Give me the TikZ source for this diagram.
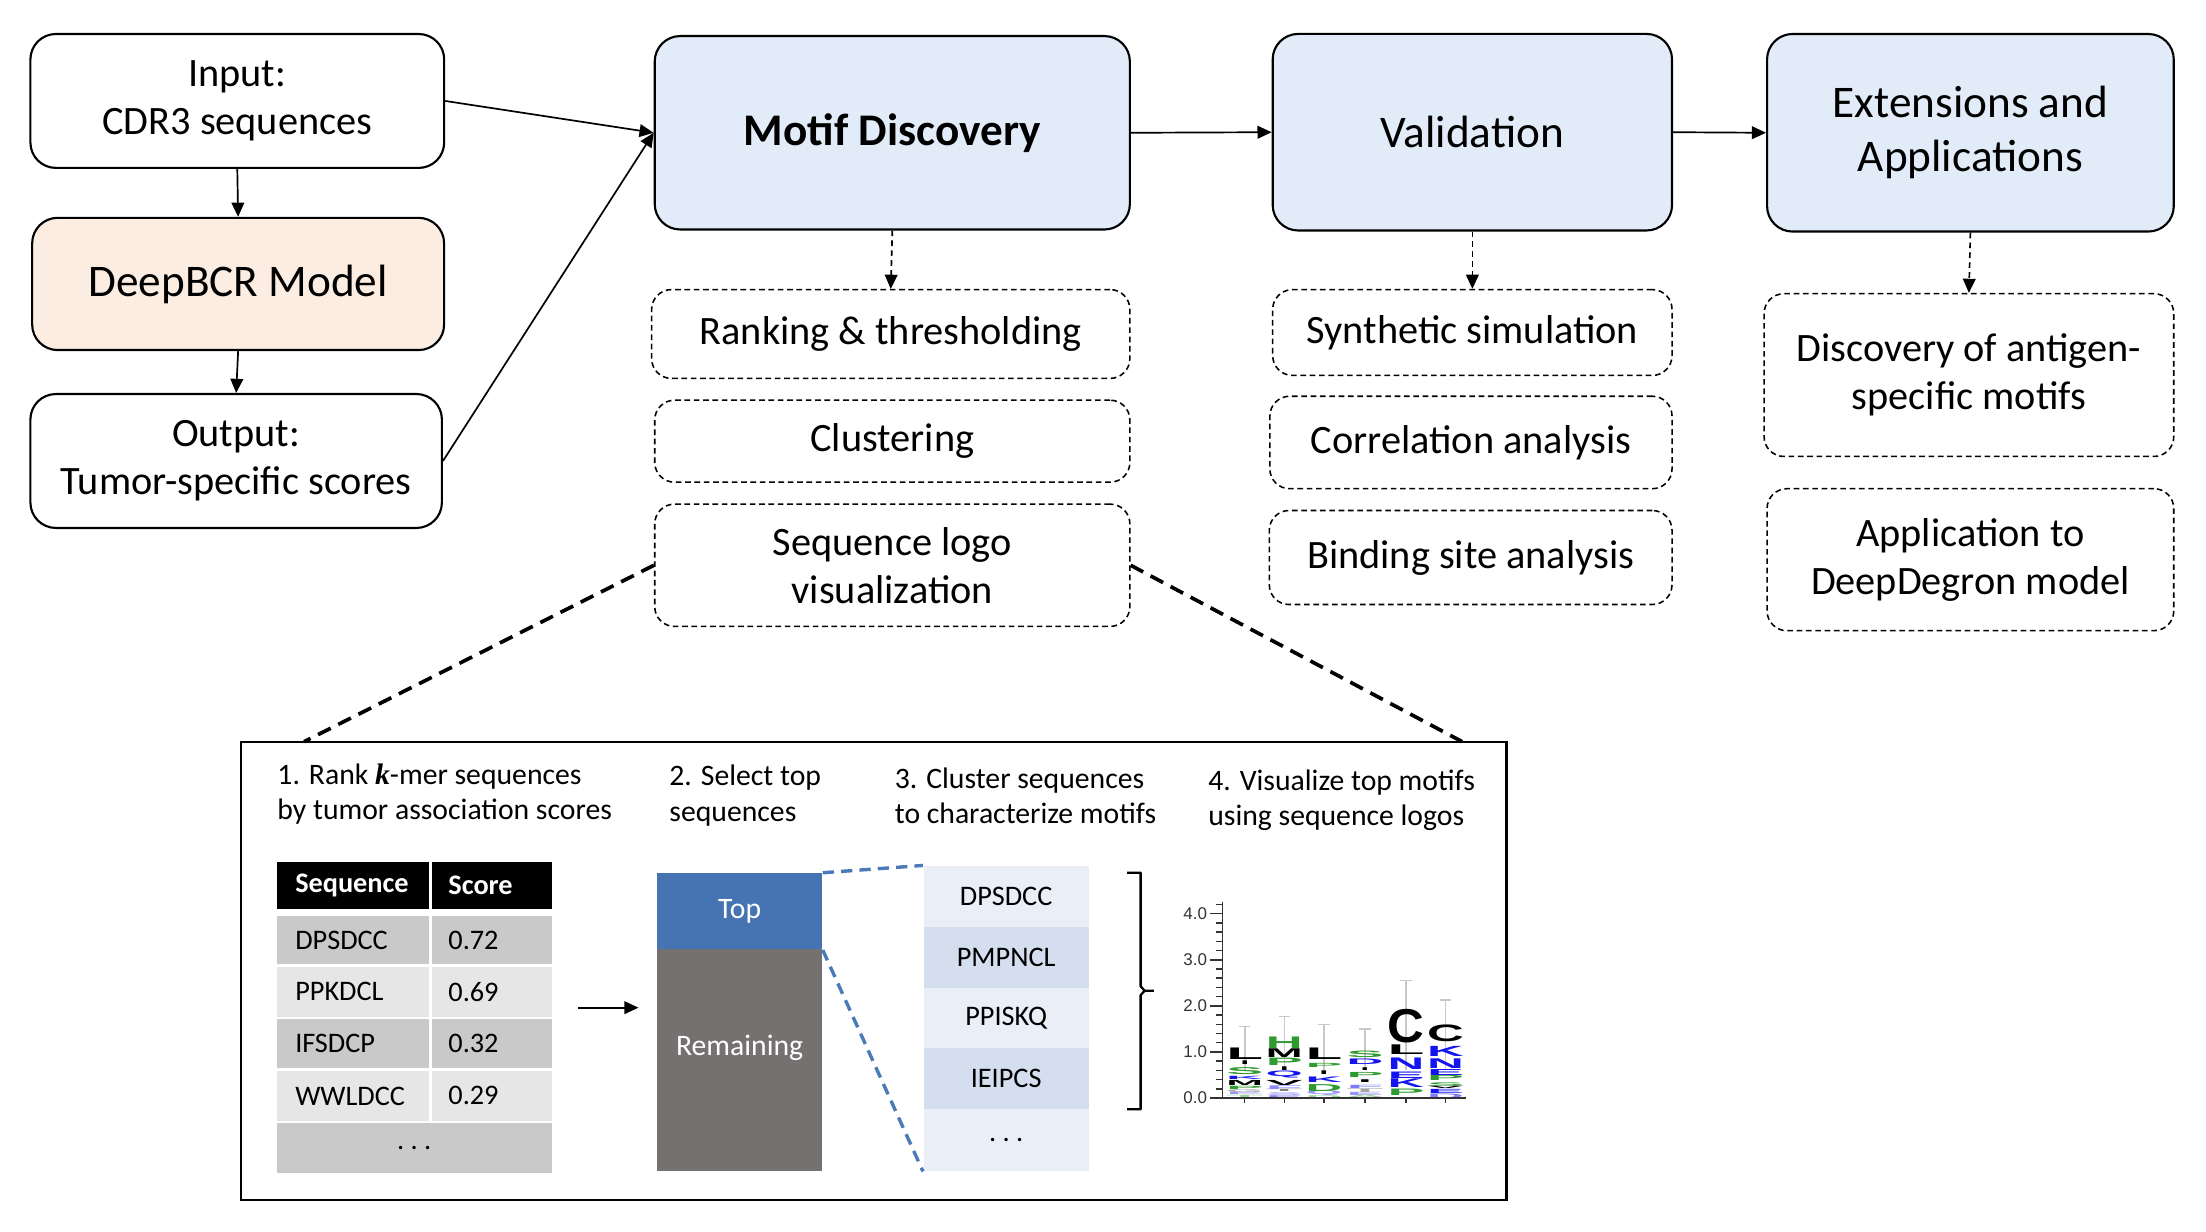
\documentclass[tikz,border=0pt]{standalone}
\usepackage{fontspec}
\setmainfont{Carlito}
\newfontfamily\logofont{Liberation Sans}
\newfontfamily\kfont{Liberation Serif}
\usetikzlibrary{arrows.meta}
\definecolor{mblue}{HTML}{E1ECF8}
\definecolor{peach}{HTML}{FBEDE2}
\definecolor{topblue}{HTML}{4674B2}
\definecolor{remgray}{HTML}{767171}
\definecolor{tdark}{HTML}{C9C9C9}
\definecolor{tlight}{HTML}{E6E6E6}
\definecolor{llight}{HTML}{EAEFF7}
\definecolor{ldark}{HTML}{D4DEEE}
\definecolor{dashblue}{HTML}{4A7AB8}
\definecolor{lgreen}{HTML}{2F9A2F}
\definecolor{lblue}{HTML}{1414F0}
\definecolor{ebar}{HTML}{C8C8C8}
\definecolor{axgray}{HTML}{333333}
\newcount\lgc
\newcommand\LG[6]{%
 \global\advance\lgc by 1
 \pgfmathsetmacro\lgh{16.3*(#3-#2)}%
 \node[anchor=south, inner sep=0pt, outer sep=0pt, text=#4] (lg\the\lgc) at (#1, {776.5-32.6*(#2)}) {\resizebox{#6pt}{\lgh pt}{\logofont\bfseries #5}};}
\begin{document}
\begin{tikzpicture}[x=0.5pt,y=-0.5pt,
  box/.style={draw, line width=0.75pt, rounded corners=9pt, align=center, inner sep=0pt, font=\fontsize{14.25}{16.9}\selectfont},
  mainbox/.style={box, fill=mblue, font=\fontsize{16}{19.1}\selectfont},
  subbox/.style={draw, dash pattern=on 2pt off 1.3pt, line width=0.55pt, rounded corners=7pt, align=center, inner sep=0pt, font=\fontsize{14.25}{16.9}\selectfont},
  arr/.style={-{Triangle[length=5pt,width=4.5pt]}, line width=0.6pt},
  darr/.style={arr, dash pattern=on 2pt off 1.5pt},
  zoomline/.style={line width=1.3pt, dash pattern=on 5pt off 3pt},
  blueline/.style={dashblue, line width=1.2pt, dash pattern=on 4pt off 2.5pt},
  head/.style={anchor=west, align=left, inner sep=0pt, font=\fontsize{10.5}{12.5}\selectfont},
  ttext/.style={anchor=west, inner sep=0pt, font=\fontsize{10}{12}\selectfont},
  ltext/.style={inner sep=0pt, font=\fontsize{10}{12}\selectfont},
  axlab/.style={anchor=east, inner sep=0pt, text=axgray, font=\logofont\fontsize{6}{7}\selectfont},
  ebarst/.style={ebar, line width=0.55pt}
]
\useasboundingbox (0,0) rectangle (1560,871.2);

% left column
\node[box, minimum width=146.3pt, minimum height=47.35pt] (in) at (167.8,71.4) {Input:\\CDR3 sequences};
\node[box, fill=peach, font=\fontsize{16}{19.1}\selectfont, minimum width=145.65pt, minimum height=46.75pt] (bcr) at (168.4,200.8) {DeepBCR Model};
\node[box, minimum width=145.5pt, minimum height=47.35pt] (out) at (167,326) {Output:\\Tumor-specific scores};

% main boxes
\node[mainbox, minimum width=168pt, minimum height=68.4pt] (motif) at (631,93.9) {\textbf{Motif Discovery}};
\node[mainbox, minimum width=141.2pt, minimum height=69.5pt] (val) at (1041.2,93.5) {Validation};
\node[mainbox, minimum width=143.8pt, minimum height=69.85pt] (ext) at (1393.4,93.9) {Extensions and\\Applications};

% sub boxes
\node[subbox, minimum width=169.1pt, minimum height=31.4pt] (rank) at (629.9,236.2) {Ranking \& thresholding};
\node[subbox, minimum width=168pt, minimum height=29pt] (clus) at (631,312) {Clustering};
\node[subbox, minimum width=168pt, minimum height=43.25pt] (seq) at (631,399.75) {Sequence logo\\visualization};
\node[subbox, minimum width=141.2pt, minimum height=30.35pt] (syn) at (1041.2,235.15) {Synthetic simulation};
\node[subbox, minimum width=142.2pt, minimum height=32.7pt] (cor) at (1040.2,312.9) {Correlation analysis};
\node[subbox, minimum width=142.4pt, minimum height=33.25pt] (bind) at (1040,394.25) {Binding site analysis};
\node[subbox, minimum width=144.85pt, minimum height=57.55pt] (disc) at (1392.35,265.25) {Discovery of antigen-\\specific motifs};
\node[subbox, minimum width=143.8pt, minimum height=50.2pt] (app) at (1393.4,395.8) {Application to\\DeepDegron model};

% connectors
\draw[arr] (in.south) -- (bcr.north);
\draw[arr] (bcr.south) -- (out.north);
\draw[arr] (in.east) -- (motif.west);
\draw[arr] (out.east) -- (motif.west);
\draw[arr] (motif.east) -- (val.west);
\draw[arr] (val.east) -- (ext.west);
\draw[darr] (motif.south) -- (rank.north);
\draw[darr] (val.south) -- (syn.north);
\draw[darr] (ext.south) -- (disc.north);

% detail panel
\node[draw, line width=0.8pt, minimum width=447.45pt, minimum height=162.05pt, inner sep=0pt] (panel) at (617.95,686.55) {};
\coordinate (pl) at (215,524.5);
\coordinate (pr) at (1034,524.5);
\draw[zoomline] (seq.west) -- (pl);
\draw[zoomline] (seq.east) -- (pr);

% headings
\node[head] (h1) at (195.8,561.5) {1. Rank {\kfont\bfseries\itshape k}-mer sequences\\by tumor association scores};
\node[head] (h2) at (473,562.7) {2. Select top\\sequences};
\node[head] (h3) at (632.4,562.8) {3. Cluster sequences\\to characterize motifs};
\node[head] (h4) at (854.1,566) {4. Visualize top motifs\\using sequence logos};

% table
\fill[black] (195.8,609.8) rectangle (303.6,643);
\fill[black] (305.6,609.8) rectangle (390,643);
\fill[tdark] (195.8,648) rectangle (303.6,681.7);
\fill[tdark] (305.6,648) rectangle (390,681.7);
\fill[tlight] (195.8,683.6) rectangle (303.6,719);
\fill[tlight] (305.6,683.6) rectangle (390,719);
\fill[tdark] (195.8,720.6) rectangle (303.6,755);
\fill[tdark] (305.6,720.6) rectangle (390,755);
\fill[tlight] (195.8,757.4) rectangle (303.6,792.5);
\fill[tlight] (305.6,757.4) rectangle (390,792.5);
\fill[tdark] (195.8,794.3) rectangle (390,829.6);
\node[ttext, text=white, font=\fontsize{10}{12}\selectfont\bfseries] (th1) at (208.4,626.4) {Sequence};
\node[ttext, text=white, font=\fontsize{10}{12}\selectfont\bfseries] (th2) at (316.7,626.4) {Score};
\node[ttext] (ta1) at (208.4,664.9) {DPSDCC};
\node[ttext] (tb1) at (316.7,664.9) {0.72};
\node[ttext] (ta2) at (208.4,701.3) {PPKDCL};
\node[ttext] (tb2) at (316.7,701.3) {0.69};
\node[ttext] (ta3) at (208.4,737.8) {IFSDCP};
\node[ttext] (tb3) at (316.7,737.8) {0.32};
\node[ttext] (ta4) at (208.4,775) {WWLDCC};
\node[ttext] (tb4) at (316.7,775) {0.29};
\node[ltext] (ta5) at (292.9,812) {.\ .\ .};

\coordinate (a1) at (408.8,712.6);
\coordinate (a2) at (451.5,712.6);
\draw[arr] (a1) -- (a2);

% stacked bar
\node[fill=topblue, minimum width=58.35pt, minimum height=26.9pt, inner sep=0pt, text=white, font=\fontsize{10.5}{12.5}\selectfont] (top) at (523.05,644.5) {Top};
\node[fill=remgray, minimum width=58.35pt, minimum height=78.25pt, inner sep=0pt] (rem) at (523.05,749.65) {};
\node[inner sep=0pt, text=white, font=\fontsize{10.5}{12.5}\selectfont] (remt) at (523.05,741) {Remaining};

% cluster list
\node[fill=llight, minimum width=58.4pt, minimum height=21.45pt, inner sep=0pt, font=\fontsize{10}{12}\selectfont] (l1) at (711.5,633.85) {DPSDCC};
\node[fill=ldark, minimum width=58.4pt, minimum height=21.55pt, inner sep=0pt, font=\fontsize{10}{12}\selectfont] (l2) at (711.5,676.85) {PMPNCL};
\node[fill=llight, minimum width=58.4pt, minimum height=21.45pt, inner sep=0pt, font=\fontsize{10}{12}\selectfont] (l3) at (711.5,719.85) {PPISKQ};
\node[fill=ldark, minimum width=58.4pt, minimum height=21.5pt, inner sep=0pt, font=\fontsize{10}{12}\selectfont] (l4) at (711.5,762.8) {IEIPCS};
\node[fill=llight, minimum width=58.4pt, minimum height=21.85pt, inner sep=0pt, font=\fontsize{10}{12}\selectfont] (l5) at (711.5,806.15) {.\ .\ .};

\draw[blueline] (top.north east) -- (l1.north west);
\draw[blueline] (top.south east) -- (l5.south west);

% brace
\draw[line width=0.8pt, line join=round] (797,617.1) -- (806.6,617.1) -- (806.6,697.5) -- (809.5,700.6) -- (816,700.6);
\draw[line width=0.8pt, line join=round] (809.5,700.6) -- (806.6,703.7) -- (806.6,784.5) -- (797,784.5);

% sequence logo: error bars
\foreach \cx/\vt in {880.25/1.55, 908.25/1.77, 936.25/1.6, 965.25/1.5, 994.25/2.55, 1022.25/2.13}{
  \draw[ebarst] (\cx,{776.5-32.6*0.6}) -- (\cx,{776.5-32.6*\vt});
  \draw[ebarst] (\cx-4,{776.5-32.6*\vt}) -- (\cx+4,{776.5-32.6*\vt});
}
% letters col1
\LG{880.25}{0.00}{0.07}{lgreen!50}{T}{13}
\LG{880.25}{0.07}{0.12}{lblue!45}{E}{13}
\LG{880.25}{0.12}{0.18}{black!35}{G}{13}
\LG{880.25}{0.19}{0.26}{lgreen}{P}{13}
\LG{880.25}{0.28}{0.39}{black}{M}{13}
\LG{880.25}{0.41}{0.48}{lblue}{K}{13}
\LG{880.25}{0.50}{0.65}{lgreen}{S}{13}
\LG{880.25}{0.72}{0.80}{black}{I}{3}
\LG{880.25}{0.83}{1.08}{black}{L}{13}
% col2
\LG{908.25}{0.00}{0.06}{lblue!55}{E}{13}
\LG{908.25}{0.06}{0.12}{lblue!40}{S}{13}
\LG{908.25}{0.13}{0.18}{black!50}{T}{13}
\LG{908.25}{0.19}{0.27}{lblue!50}{F}{13}
\LG{908.25}{0.28}{0.39}{black}{V}{13}
\LG{908.25}{0.43}{0.55}{lblue}{Q}{13}
\LG{908.25}{0.60}{0.68}{black}{I}{3}
\LG{908.25}{0.70}{0.86}{lgreen}{P}{13}
\LG{908.25}{0.87}{1.06}{black}{M}{13}
\LG{908.25}{1.08}{1.33}{lgreen}{H}{13}
% col3
\LG{936.25}{0.00}{0.06}{lgreen!50}{D}{13}
\LG{936.25}{0.06}{0.14}{lblue!45}{Q}{13}
\LG{936.25}{0.15}{0.30}{lgreen}{D}{13}
\LG{936.25}{0.33}{0.45}{lblue}{K}{13}
\LG{936.25}{0.52}{0.60}{black}{I}{3}
\LG{936.25}{0.66}{0.75}{lgreen}{P}{13}
\LG{936.25}{0.83}{1.08}{black}{L}{13}
% col4
\LG{965.25}{0.00}{0.05}{lgreen!50}{A}{13}
\LG{965.25}{0.05}{0.12}{lblue!45}{E}{13}
\LG{965.25}{0.12}{0.20}{black!35}{T}{13}
\LG{965.25}{0.20}{0.27}{lblue!55}{F}{13}
\LG{965.25}{0.33}{0.39}{black}{I}{5}
\LG{965.25}{0.44}{0.55}{lgreen}{P}{13}
\LG{965.25}{0.60}{0.66}{black}{I}{3}
\LG{965.25}{0.72}{0.84}{lblue}{D}{13}
\LG{965.25}{0.88}{1.02}{lgreen}{S}{13}
% col5
\LG{994.25}{0.05}{0.19}{lgreen}{P}{13}
\LG{994.25}{0.22}{0.41}{lblue}{K}{13}
\LG{994.25}{0.43}{0.57}{lblue}{E}{13}
\LG{994.25}{0.61}{0.86}{lblue}{N}{13}
\LG{994.25}{0.94}{1.15}{black}{L}{13}
\LG{994.25}{1.19}{1.91}{black}{C}{13}
% col6
\LG{1022.25}{0.00}{0.10}{lblue!55}{D}{13}
\LG{1022.25}{0.10}{0.19}{lblue}{E}{13}
\LG{1022.25}{0.20}{0.25}{black}{V}{13}
\LG{1022.25}{0.26}{0.34}{lgreen}{S}{13}
\LG{1022.25}{0.37}{0.48}{lgreen}{P}{13}
\LG{1022.25}{0.50}{0.63}{lblue}{E}{13}
\LG{1022.25}{0.65}{0.86}{lblue}{N}{13}
\LG{1022.25}{0.90}{1.12}{lblue}{K}{13}
\LG{1022.25}{1.22}{1.58}{black}{C}{13}

% axes
\draw[axgray, line width=0.7pt] (864.5,{776.5-32.6*4.25}) -- (864.5,776.5) -- (1037,776.5);
\foreach \v in {0.2,0.4,0.6,0.8,1.2,1.4,1.6,1.8,2.2,2.4,2.6,2.8,3.2,3.4,3.6,3.8,4.2}{
  \draw[axgray, line width=0.5pt] (860,{776.5-32.6*\v}) -- (864.5,{776.5-32.6*\v});
}
\foreach \v in {0,1,2,3,4}{
  \draw[axgray, line width=0.6pt] (856,{776.5-32.6*\v}) -- (864.5,{776.5-32.6*\v});
}
\foreach \cx in {880.25,908.25,936.25,965.25,994.25,1022.25}{
  \draw[axgray, line width=0.5pt] (\cx,776.5) -- (\cx,780);
}
\node[axlab] (y0) at (854,776.5) {0.0};
\node[axlab] (y1) at (854,743.9) {1.0};
\node[axlab] (y2) at (854,711.3) {2.0};
\node[axlab] (y3) at (854,678.7) {3.0};
\node[axlab] (y4) at (854,646.1) {4.0};
\end{tikzpicture}
\end{document}
